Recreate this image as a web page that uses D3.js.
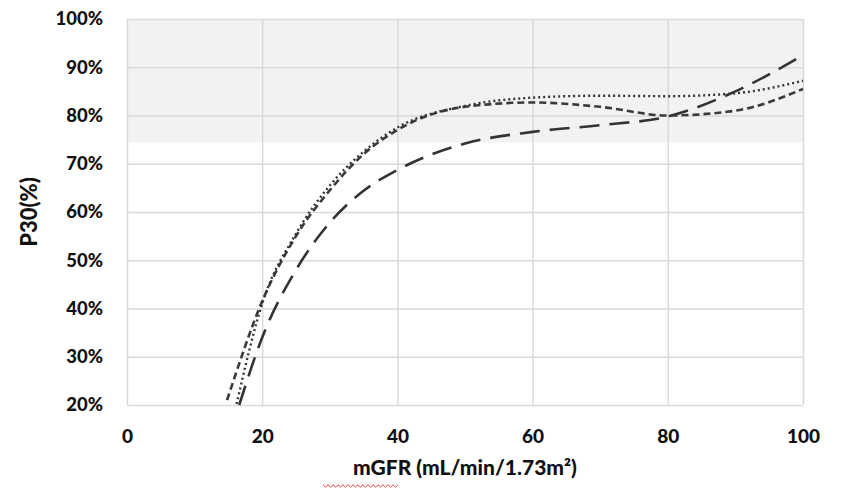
<!DOCTYPE html>
<html><head><meta charset="utf-8">
<script src="https://cdn.jsdelivr.net/npm/d3@7/dist/d3.min.js"></script>
<style>body{margin:0;background:#fff;} text{font-family:Lato,"Open Sans",sans-serif;font-weight:900;fill:#111;}</style>
</head><body><svg id="c" width="844" height="494"></svg>
<script>
const xTicks = [0,20,40,60,80,100];
const yTicks = [20,30,40,50,60,70,80,90,100];
const bandRange = [74.4,100];
const longDash = [[16.6,20],[20,34],[25,48],[30,57.8],[35,64.4],[40,68.7],[50,74.2],[60,76.6],[70,78],[80,79.8],[90,85],[100,92.5]];
const shortDash = [[14.8,21],[20,41.5],[25,55],[30,64.5],[35,72],[40,77],[50,81.8],[60,82.7],[70,81.8],[80,80],[90,81],[100,85.5]];
const dotted = [[16.2,20.2],[20,41],[25,55.5],[30,65.5],[35,72.5],[40,77.5],[50,82],[60,83.7],[70,84.1],[80,84],[90,84.6],[100,87.2]];

const svg = d3.select("#c");
const x = d3.scaleLinear().domain([0,100]).range([127,803]);
const y = d3.scaleLinear().domain([20,100]).range([405,19]);

svg.append("rect").attr("x",x(0)).attr("y",y(bandRange[1])).attr("width",x(100)-x(0)).attr("height",y(bandRange[0])-y(bandRange[1])).attr("fill","#f2f2f2");

const gx = svg.append("g").attr("transform","translate(0,405)")
  .call(d3.axisBottom(x).tickValues(xTicks).tickSize(-(405-19)).tickPadding(29));
gx.select(".domain").remove();
gx.selectAll("line").attr("stroke","#d9d9d9").attr("stroke-width",1.5);
gx.selectAll("text").attr("font-size",19).attr("dy","0.45em");

const gy = svg.append("g").attr("transform","translate(127,0)")
  .call(d3.axisLeft(y).tickValues(yTicks).tickFormat(d=>d+"%").tickSize(-(803-127)).tickPadding(24));
gy.select(".domain").remove();
gy.selectAll("line").attr("stroke","#d9d9d9").attr("stroke-width",1.5);
gy.selectAll("text").attr("font-size",18.5);

const line = d3.line().x(d=>x(d[0])).y(d=>y(d[1])).curve(d3.curveMonotoneX);
const series = [
  {data:longDash, dash:"20,10", w:2.6, color:"#333"},
  {data:shortDash, dash:"7,4", w:2.6, color:"#3a3a3a"},
  {data:dotted, dash:"2,3", w:2.4, color:"#333"}
];
series.forEach(s=>{
  svg.append("path").attr("d",line(s.data)).attr("fill","none").attr("stroke",s.color)
    .attr("stroke-width",s.w).attr("stroke-dasharray",s.dash);
});

svg.append("text").attr("x",465).attr("y",475).attr("text-anchor","middle").attr("font-size",21).text("mGFR (mL/min/1.73m²)");
// spell-check squiggle under "mGFR"
const sq = d3.range(0,31).map(i=>[323+i*2.5, 486 + (i%2?1.2:-1.2)]);
svg.append("path").attr("d",d3.line()(sq)).attr("fill","none").attr("stroke","#e03030").attr("stroke-width",0.9);

svg.append("text").attr("transform","translate(37,212) rotate(-90)").attr("text-anchor","middle").attr("font-size",22).text("P30(%)");
</script></body></html>
